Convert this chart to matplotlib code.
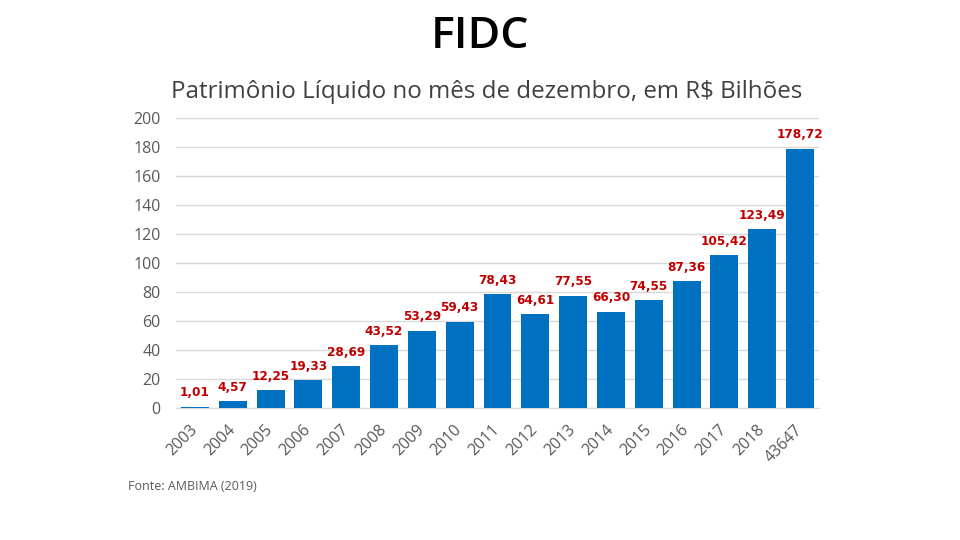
import matplotlib
matplotlib.use("Agg")
import matplotlib.pyplot as plt

# Patrimônio Líquido dos FIDC em dezembro (R$ bilhões)
years = ["2003", "2004", "2005", "2006", "2007", "2008", "2009", "2010", "2011",
         "2012", "2013", "2014", "2015", "2016", "2017", "2018", "43647"]
values = [1.01, 4.57, 12.25, 19.33, 28.69, 43.52, 53.29, 59.43, 78.43,
          64.61, 77.55, 66.30, 74.55, 87.36, 105.42, 123.49, 178.72]
yticks = [0, 20, 40, 60, 80, 100, 120, 140, 160, 180, 200]

BLUE = "#0070C0"
RED = "#C00000"
GRAY = "#595959"
FONT = ["Open Sans", "DejaVu Sans"]

fig = plt.figure(figsize=(9.6, 5.4), dpi=100)
ax = fig.add_axes([176 / 960, 1 - 408 / 540, 643 / 960, 290 / 540])

x = list(range(len(values)))
ax.bar(x, values, width=0.74, color=BLUE, zorder=3)
for xi, v in zip(x, values):
    ax.annotate(f"{v:.2f}".replace(".", ","), (xi, v), xytext=(0, 10),
                textcoords="offset points", ha="center", va="center",
                fontsize=8.7, fontweight="bold", color=RED,
                family=["DejaVu Sans"])

ax.set_xlim(-0.5, len(values) - 0.5)
ax.set_ylim(0, 200)
ax.set_yticks(yticks)
ax.set_yticklabels([str(t) for t in yticks], fontsize=11.5, color=GRAY, family=FONT)
ax.set_xticks(x)
ax.set_xticklabels(years, rotation=45, ha="right", va="center",
                   rotation_mode="anchor", fontsize=11.5, color=GRAY, family=FONT)
ax.tick_params(axis="both", length=0)
ax.tick_params(axis="y", pad=11)
ax.tick_params(axis="x", pad=14)
ax.grid(axis="y", color="#D9D9D9", linewidth=1, zorder=0)
for s in ["top", "right", "left"]:
    ax.spines[s].set_visible(False)
ax.spines["bottom"].set_color("#D9D9D9")

fig.text(0.5, 1 - 37 / 540, "FIDC", ha="center", va="center", fontsize=32,
         fontweight="semibold", color="black", family=FONT)
fig.text(487 / 960, 1 - 92 / 540,
         "Patrimônio Líquido no mês de dezembro, em R$ Bilhões",
         ha="center", va="center", fontsize=17.4, color="#404040", family=FONT)
fig.text(128 / 960, 1 - 487 / 540, "Fonte: AMBIMA (2019)", ha="left",
         va="center", fontsize=9, color=GRAY, family=FONT)

fig.savefig("out.png", dpi=100)
